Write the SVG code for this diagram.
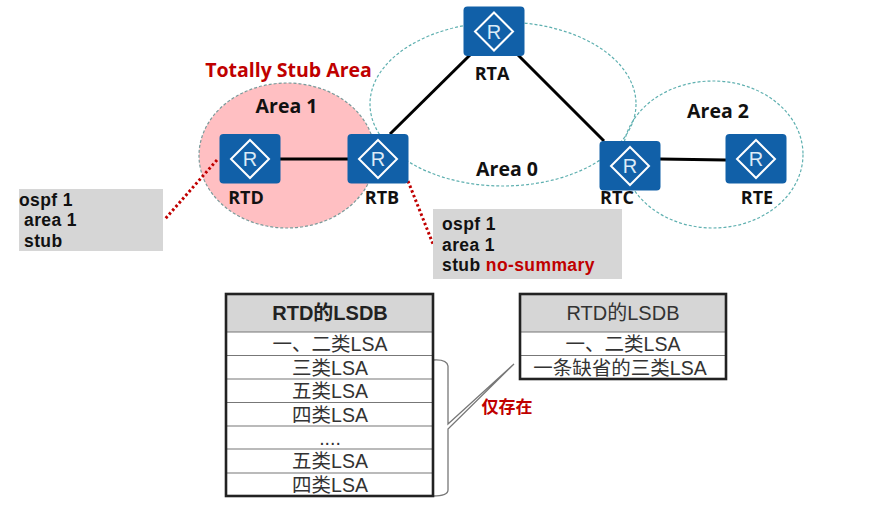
<svg xmlns="http://www.w3.org/2000/svg" width="888" height="515" viewBox="0 0 888 515">
<style>
text{font-family:"Open Sans","Liberation Sans","Noto Sans CJK SC",sans-serif;fill:#111}
.cjk{font-family:"Liberation Sans","Noto Sans CJK SC",sans-serif;fill:#333;font-size:19.500px;text-anchor:middle}
.hd{font-size:20px}
.b{font-weight:700;font-size:18px}
.big{font-weight:700;font-size:19.500px;text-anchor:middle}
.cfg{font-family:"Liberation Sans","Noto Sans CJK SC",sans-serif;font-weight:700;font-size:17.500px;letter-spacing:.4px}
.m{text-anchor:middle}
.red{fill:#c00000}
.area{fill:none;stroke:#5fb0b0;stroke-width:1.2;stroke-dasharray:3 2}
.link{stroke:#000;stroke-width:3;fill:none}
.dot{stroke:#c00000;stroke-width:3;stroke-dasharray:2.5 2.5;fill:none}
.box{fill:#d6d6d6}
.rt{fill:#1160a8}
.ic{fill:none;stroke:#fff;stroke-width:2}
.rl{font-size:20px;fill:#dcebf7;font-family:"Liberation Sans",sans-serif;text-anchor:middle}
.row{stroke:#777;stroke-width:1.2}
.tb{fill:none;stroke:#222;stroke-width:2.6}
.leader{fill:none;stroke:#777;stroke-width:1.3}
</style>
<defs>
<g id="router">
<rect class="rt" x="-30.500" y="-25" width="61" height="49.500" rx="4"/>
<path class="ic" d="M0 -19L19 0L0 19L-19 0Z"/>
<text class="rl" x="0" y="7">R</text>
</g>
</defs>
<g id="area1"><ellipse cx="287" cy="155.500" rx="88" ry="72.500" fill="#ffbfc2" stroke="#7a9a9a" stroke-width="1.200" stroke-dasharray="3 2"/></g>
<g id="area0"><ellipse class="area" cx="503" cy="104" rx="133" ry="82"/></g>
<g id="area2"><ellipse class="area" cx="713" cy="154.500" rx="90" ry="73.500"/></g>
<g id="connectors">
<line class="link" x1="280" y1="159" x2="348" y2="159"/>
<line class="link" x1="390" y1="134" x2="470" y2="55"/>
<line class="link" x1="518" y1="55" x2="604" y2="141"/>
<line class="link" x1="660" y1="159" x2="726" y2="160"/>
<line class="dot" x1="217" y1="160" x2="165" y2="219"/>
<line class="dot" x1="408" y1="181" x2="433" y2="244"/>
<path class="leader" d="M433 360Q447 359 448 366V424L514 364L448 429V490Q448 496 433 496"/>
</g>
<text class="big red m" x="288.500" y="77">Totally Stub Area</text>
<text class="big" x="286.500" y="113">Area 1</text>
<text class="big" x="507" y="176">Area 0</text>
<text class="big" x="718" y="118">Area 2</text>
<g id="RTD"><use href="#router" x="250" y="159"/><text class="b m" x="246" y="204">RTD</text></g>
<g id="RTB"><use href="#router" x="378" y="159"/><text class="b m" x="382" y="204">RTB</text></g>
<g id="RTA"><use href="#router" x="494" y="31.500"/><text class="b m" x="492" y="80">RTA</text></g>
<g id="RTC"><use href="#router" x="630" y="166"/><text class="b m" x="617" y="204">RTC</text></g>
<g id="RTE"><use href="#router" x="756" y="159"/><text class="b m" x="757" y="204">RTE</text></g>
<g id="cfg-rtd">
<rect class="box" x="19" y="189" width="144" height="62"/>
<text class="cfg" x="19" y="205.500">ospf 1</text>
<text class="cfg" x="24" y="226">area 1</text>
<text class="cfg" x="24" y="246.500">stub</text>
</g>
<g id="cfg-rtb">
<rect class="box" x="433" y="209" width="189" height="70"/>
<text class="cfg" x="442" y="230">ospf 1</text>
<text class="cfg" x="442" y="250.500">area 1</text>
<text class="cfg" x="442" y="271">stub <tspan class="red">no-summary</tspan></text>
</g>
<g id="table-left">
<rect class="box" x="226" y="294" width="207" height="38"/>
<path class="row" d="M226 332H433M226 355.500H433M226 379H433M226 402.500H433M226 426H433M226 449H433M226 473H433"/>
<rect class="tb" x="226" y="294" width="207" height="202"/>
<text class="cjk hd" x="330" y="320" style="font-weight:700;fill:#222">RTD的LSDB</text>
<text class="cjk" x="330" y="351">一、二类LSA</text>
<text class="cjk" x="330" y="375">三类LSA</text>
<text class="cjk" x="330" y="398">五类LSA</text>
<text class="cjk" x="330" y="422">四类LSA</text>
<text class="cjk" x="330" y="445">....</text>
<text class="cjk" x="330" y="468">五类LSA</text>
<text class="cjk" x="330" y="492">四类LSA</text>
</g>
<g id="table-right">
<rect class="box" x="520" y="294" width="206" height="38"/>
<path class="row" d="M520 332H726M520 355.500H726"/>
<rect class="tb" x="520" y="294" width="206" height="85"/>
<text class="cjk hd" x="623" y="320">RTD的LSDB</text>
<text class="cjk" x="623" y="351">一、二类LSA</text>
<text class="cjk" x="620" y="375">一条缺省的三类LSA</text>
</g>
<text x="507" y="413" style="font-family:'Noto Sans CJK SC',sans-serif;font-weight:700;font-size:17px;text-anchor:middle;fill:#c00000">仅存在</text>
</svg>
